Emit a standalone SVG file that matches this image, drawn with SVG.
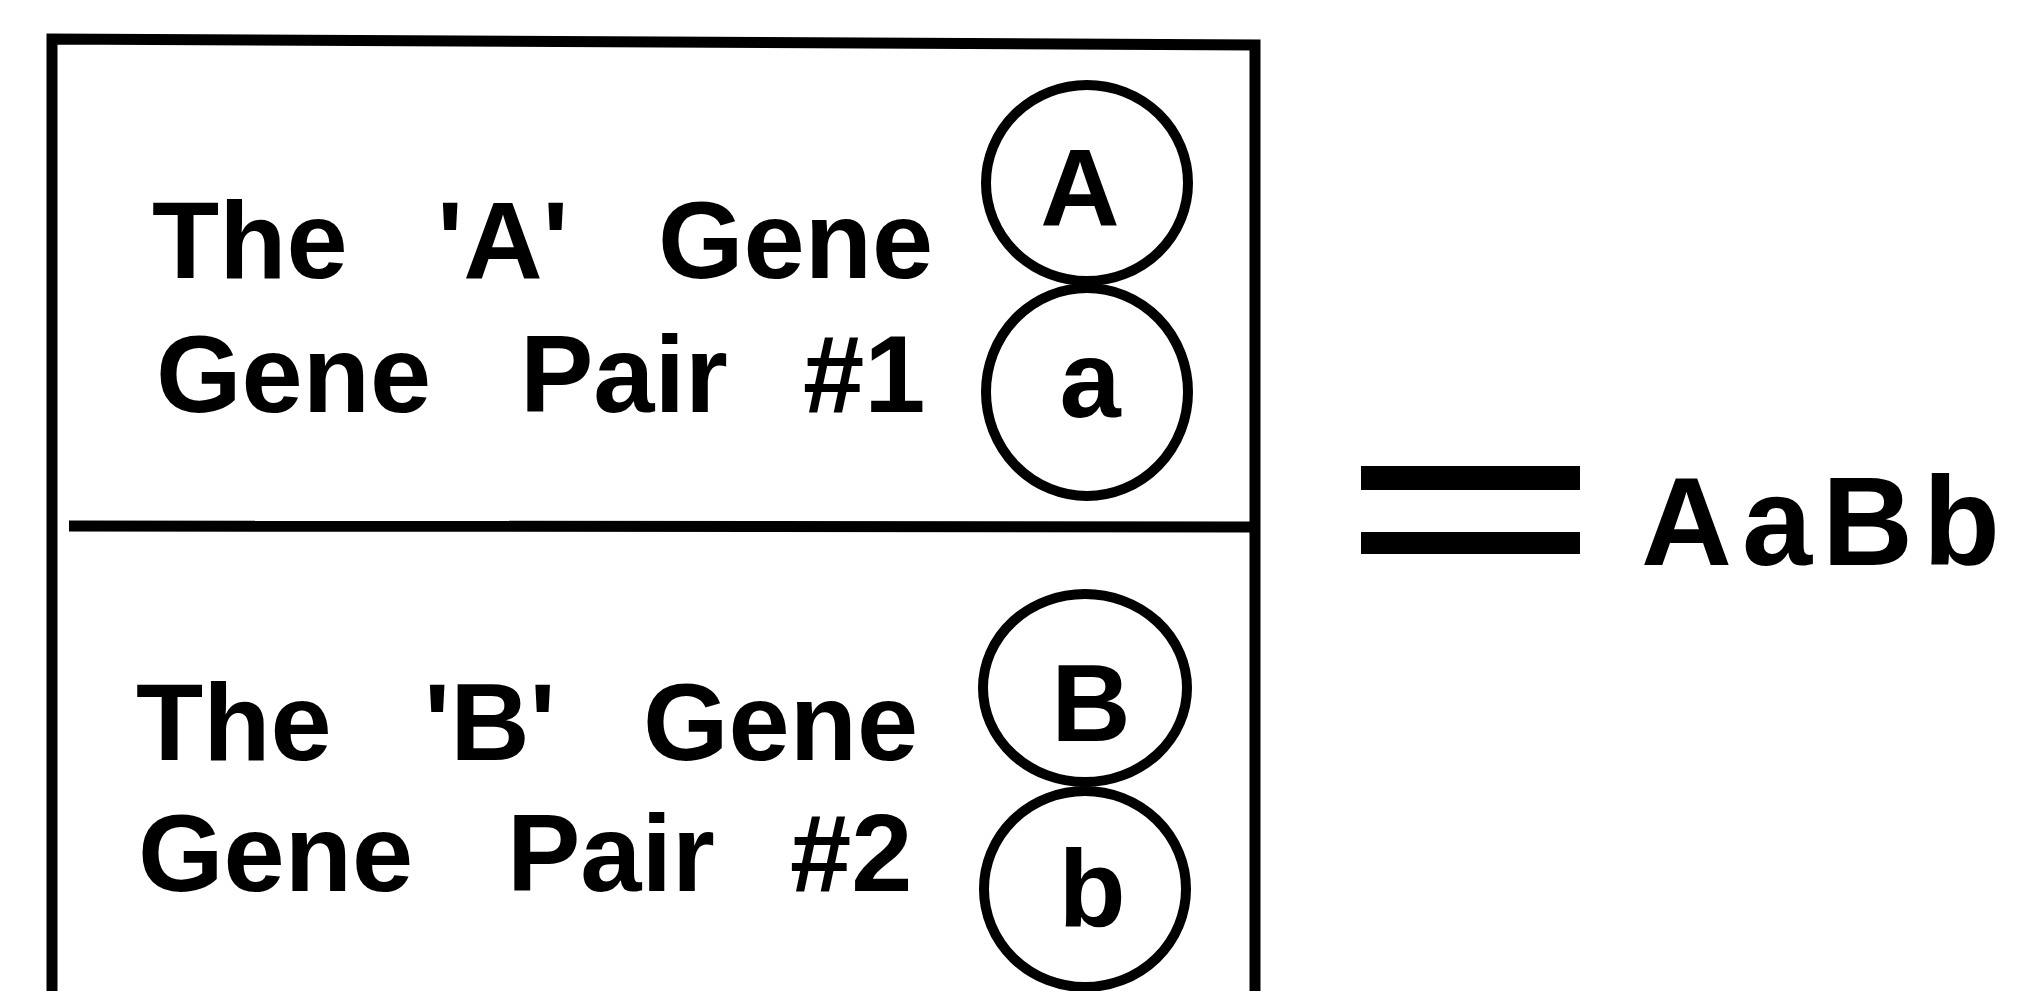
<svg xmlns="http://www.w3.org/2000/svg" width="2037" height="991" viewBox="0 0 2037 991">
<style>
.ln{fill:none;stroke:#000;stroke-width:11}
.cir{fill:none;stroke:#000;stroke-width:10}
.t{font-family:"Liberation Sans",Arial,sans-serif;font-weight:bold;font-size:110px;fill:#000}
.c{text-anchor:middle}
</style>
<rect width="2037" height="991" fill="#fff"/>
<g id="frame">
<path class="ln" d="M52 991 V39 L1255 45 V991"/>
<line class="ln" x1="69" y1="526" x2="1255" y2="527"/>
</g>
<g id="geneA">
<text class="t" y="278"><tspan x="152">The</tspan> <tspan x="437">'A'</tspan> <tspan x="658">Gene</tspan></text>
<text class="t" y="412"><tspan x="156">Gene</tspan> <tspan x="520">Pair</tspan> <tspan x="803">#1</tspan></text>
<ellipse class="cir" cx="1087" cy="183" rx="101" ry="98"/>
<ellipse class="cir" cx="1087" cy="392" rx="101" ry="104"/>
<text class="t c" x="1080" y="225">A</text>
<text class="t c" x="1090" y="417">a</text>
</g>
<g id="geneB">
<text class="t" y="760"><tspan x="136">The</tspan> <tspan x="424">'B'</tspan> <tspan x="643">Gene</tspan></text>
<text class="t" y="891"><tspan x="138">Gene</tspan> <tspan x="507">Pair</tspan> <tspan x="790">#2</tspan></text>
<ellipse class="cir" cx="1085" cy="688" rx="102" ry="94"/>
<ellipse class="cir" cx="1085" cy="889" rx="101" ry="98"/>
<text class="t c" x="1091" y="741">B</text>
<text class="t c" x="1092" y="926">b</text>
</g>
<g id="result">
<rect x="1361" y="466" width="219" height="24"/>
<rect x="1361" y="532" width="219" height="22"/>
<text class="t" x="1641" y="565" style="font-size:126px;letter-spacing:10px">AaBb</text>
</g>
</svg>
